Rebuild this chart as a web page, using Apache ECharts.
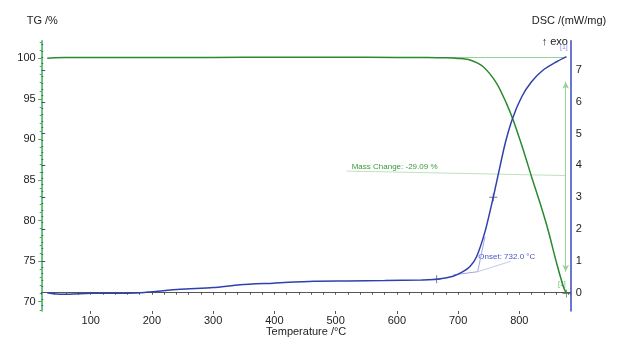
<!DOCTYPE html>
<html>
<head>
<meta charset="utf-8">
<script src="https://cdn.jsdelivr.net/npm/echarts@6/dist/echarts.min.js"></script>
<style>
html,body{margin:0;padding:0;background:#fff;}
#c{width:627px;height:356px;}
</style>
</head>
<body>
<div id="c"></div>
<script>
// ---- data ----
const tgTemp = [29, 40, 60, 100, 200, 300, 400, 500, 600, 650, 680, 700, 719.5, 741, 763, 779, 790, 806.5, 820, 834, 847, 861, 872, 877];
const tgVals = [100.0, 100.08, 100.1, 100.1, 100.1, 100.11, 100.12, 100.12, 100.11, 100.1, 100.06, 99.98, 99.79, 98.96, 96.92, 94.45, 92.39, 88.70, 85.41, 82.13, 78.84, 74.73, 71.85, 71.01];

const dscTemp = [29, 40, 55, 100, 175, 200, 246, 300, 344, 398, 464, 520, 580, 640, 665, 692, 708, 719.5, 730, 744, 757.5, 766, 777, 789, 804, 820, 839, 861, 877];
const dscVals = [0.0, -0.03, -0.05, -0.02, -0.01, 0.03, 0.11, 0.16, 0.25, 0.30, 0.36, 0.37, 0.38, 0.40, 0.42, 0.52, 0.66, 0.82, 1.12, 1.92, 3.0, 3.75, 4.70, 5.48, 6.16, 6.63, 7.00, 7.26, 7.42];

// annotation geometry (data coordinates)
const tgBaseline = [[450, 100.1], [877, 100.1]];
const massLeader = [[518, 86.1], [876, 85.55]];
const massArrow = [[875.8, 97.1], [875.8, 73.7]];
const onsetBase = [[692, 0.56], [732, 0.66]];
const onsetTangent = [[732, 0.66], [744, 1.76]];
const onsetLeader = [[732, 0.66], [785, 0.98]];
const dscMarks = [[665, 0.42], [757.5, 3.0]];
const tgMarks = [[877, 71.01]];

const xTickLabels = [100, 200, 300, 400, 500, 600, 700, 800];
const tgTickLabels = [70, 75, 80, 85, 90, 95, 100];
const dscTickLabels = [0, 1, 2, 3, 4, 5, 6, 7];

const FONT = 'Liberation Sans, Arial, Helvetica, sans-serif';
const GREEN_AX = '#3db14a';
const BLUE_AX = '#3a48c0';
const TG_COL = '#2a8a2e';
const DSC_COL = '#3040ae';
const LIGHT_G = '#93d393';
const LIGHT_B = '#a0a6e2';

const zip = (a, b) => a.map((v, i) => [v, b[i]]);
const plus = 'path://M0,4.4h10v1.2h-10z M4.4,0h1.2v10h-1.2z';

const L = 41.7, R = 570.7, T = 40.7, B = 311;
const W = R - L, H = B - T;
const pxTG = 8.113, yTG100 = 58.3;
const pxDSC = 31.81, yDSC0 = 292.7;
const pxX = 0.6123, xAt100 = 90.7;

const hiddenAxis = (gi) => ({gridIndex: gi, type: 'value', show: false, min: 0, max: 1});

const grids = [
  {left: L, top: T, width: W, height: H},
  {left: xAt100, top: T, width: 700 * pxX, height: H},
  {left: L, top: yTG100 - 2 * pxTG, width: W, height: 33 * pxTG},
  {left: L, top: yTG100, width: W, height: 30 * pxTG},
  {left: L, top: yDSC0 - 7.8 * pxDSC, width: W, height: 8.2 * pxDSC},
  {left: L, top: yDSC0 - 7 * pxDSC, width: W, height: 7 * pxDSC}
].map(g => Object.assign({outerBoundsMode: 'none', containLabel: false}, g));

const option = {
  animation: false,
  backgroundColor: '#fff',
  textStyle: {fontFamily: FONT},
  grid: grids,
  xAxis: [
    {gridIndex: 0, type: 'value', min: 20, max: 20 + W / pxX, interval: 20,
      axisLine: {show: true, lineStyle: {color: '#555', width: 1}},
      axisTick: {show: true, length: 2, lineStyle: {color: '#555'}},
      axisLabel: {show: false}, splitLine: {show: false},
      name: 'Temperature /°C', nameLocation: 'middle', nameGap: 15,
      nameTextStyle: {color: '#222', fontSize: 11, fontFamily: FONT}},
    {gridIndex: 1, type: 'value', min: xTickLabels[0], max: xTickLabels[xTickLabels.length - 1], interval: 100,
      axisLine: {show: false},
      axisTick: {show: true, length: 3, lineStyle: {color: '#555'}},
      axisLabel: {show: true, color: '#222', fontSize: 11, margin: 4, fontFamily: FONT},
      splitLine: {show: false}},
    hiddenAxis(2), hiddenAxis(3), hiddenAxis(4), hiddenAxis(5)
  ],
  yAxis: [
    {gridIndex: 0, type: 'value', position: 'left', min: 100 - (B - yTG100) / pxTG, max: 100 + (yTG100 - T) / pxTG,
      axisLine: {show: true, lineStyle: {color: GREEN_AX, width: 1.5}},
      axisTick: {show: false}, axisLabel: {show: false}, splitLine: {show: false}},
    {gridIndex: 0, type: 'value', position: 'right', min: -(B - yDSC0) / pxDSC, max: (yDSC0 - T) / pxDSC,
      axisLine: {show: true, lineStyle: {color: BLUE_AX, width: 1.5}},
      axisTick: {show: false}, axisLabel: {show: false}, splitLine: {show: false}},
    {gridIndex: 1, type: 'value', show: false, min: 0, max: 1},
    {gridIndex: 2, type: 'value', position: 'left', min: 69, max: 102, interval: 1,
      axisLine: {show: false}, axisTick: {show: true, length: 2, lineStyle: {color: GREEN_AX}},
      axisLabel: {show: false}, splitLine: {show: false}},
    {gridIndex: 3, type: 'value', position: 'left', min: tgTickLabels[0], max: tgTickLabels[tgTickLabels.length - 1], interval: 5,
      axisLine: {show: false}, axisTick: {show: true, length: 3.5, lineStyle: {color: GREEN_AX}},
      axisLabel: {show: true, color: '#222', fontSize: 11, margin: 6, fontFamily: FONT}, splitLine: {show: false}},
    {gridIndex: 4, type: 'value', position: 'right', min: -0.4, max: 7.8, interval: 0.2,
      axisLine: {show: false}, axisTick: {show: true, length: 1.5, lineStyle: {color: BLUE_AX}},
      axisLabel: {show: false}, splitLine: {show: false}},
    {gridIndex: 5, type: 'value', position: 'right', min: dscTickLabels[0], max: dscTickLabels[dscTickLabels.length - 1], interval: 1,
      axisLine: {show: false}, axisTick: {show: true, length: 3.5, lineStyle: {color: BLUE_AX}},
      axisLabel: {show: true, color: '#222', fontSize: 11, margin: 5, fontFamily: FONT}, splitLine: {show: false}}
  ],
  series: [
    {type: 'line', name: 'baseline', xAxisIndex: 0, yAxisIndex: 0, data: tgBaseline, showSymbol: false,
      lineStyle: {color: LIGHT_G, width: 1}, silent: true},
    {type: 'line', name: 'leader', xAxisIndex: 0, yAxisIndex: 0, data: massLeader, showSymbol: false,
      lineStyle: {color: '#bfe2bf', width: 1}, silent: true},
    {type: 'line', name: 'arrow', xAxisIndex: 0, yAxisIndex: 0, data: [], silent: true,
      markLine: {silent: true, symbol: ['arrow', 'arrow'], symbolSize: [5, 7], label: {show: false},
        lineStyle: {color: LIGHT_G, width: 1, type: 'solid'},
        data: [[{coord: massArrow[0]}, {coord: massArrow[1]}]]}},
    {type: 'line', name: 'onsetBase', xAxisIndex: 0, yAxisIndex: 1, data: onsetBase, showSymbol: false,
      lineStyle: {color: LIGHT_B, width: 1}, silent: true},
    {type: 'line', name: 'onsetTangent', xAxisIndex: 0, yAxisIndex: 1, data: onsetTangent, showSymbol: false,
      lineStyle: {color: LIGHT_B, width: 1}, silent: true},
    {type: 'line', name: 'onsetLeader', xAxisIndex: 0, yAxisIndex: 1, data: onsetLeader, showSymbol: false,
      lineStyle: {color: '#c4c8ee', width: 1}, silent: true},
    {type: 'line', name: 'TG', xAxisIndex: 0, yAxisIndex: 0, data: zip(tgTemp, tgVals), showSymbol: false,
      smooth: 0.25, lineStyle: {color: TG_COL, width: 1.5}},
    {type: 'line', name: 'DSC', xAxisIndex: 0, yAxisIndex: 1, data: zip(dscTemp, dscVals), showSymbol: false,
      smooth: 0.25, lineStyle: {color: DSC_COL, width: 1.5}},
    {type: 'scatter', xAxisIndex: 0, yAxisIndex: 1, data: dscMarks, symbol: plus, symbolSize: 8,
      itemStyle: {color: '#4a4f88'}},
    {type: 'scatter', xAxisIndex: 0, yAxisIndex: 0, data: tgMarks, symbol: plus, symbolSize: 8,
      itemStyle: {color: '#5a7a5a'}}
  ],
  graphic: [
    {type: 'text', x: 26.7, y: 20.7, style: {text: 'TG /%', font: '11px ' + FONT, fill: '#222', verticalAlign: 'middle'}},
    {type: 'text', x: 531.7, y: 20.7, style: {text: 'DSC /(mW/mg)', font: '11px ' + FONT, fill: '#222', verticalAlign: 'middle'}},
    {type: 'text', x: 541.7, y: 41.7, style: {text: '↑ exo', font: '11px ' + FONT, fill: '#222', verticalAlign: 'middle'}},
    {type: 'text', x: 351.7, y: 166.7, style: {text: 'Mass Change: -29.09 %', font: '8px ' + FONT, fill: '#3a9a3a', verticalAlign: 'middle'}},
    {type: 'text', x: 478.3, y: 256.7, style: {text: 'Onset: 732.0 °C', font: '8px ' + FONT, fill: '#4a55c0', verticalAlign: 'middle'}},
    {type: 'text', x: 558, y: 284, style: {text: '[1]', font: '7px ' + FONT, fill: '#6ab86a', verticalAlign: 'middle'}},
    {type: 'text', x: 560, y: 46.7, style: {text: '[1]', font: '7px ' + FONT, fill: '#8890d0', verticalAlign: 'middle'}}
  ]
};

const chart = echarts.init(document.getElementById('c'), null, {renderer: 'canvas'});
chart.setOption(option);
</script>
</body>
</html>
